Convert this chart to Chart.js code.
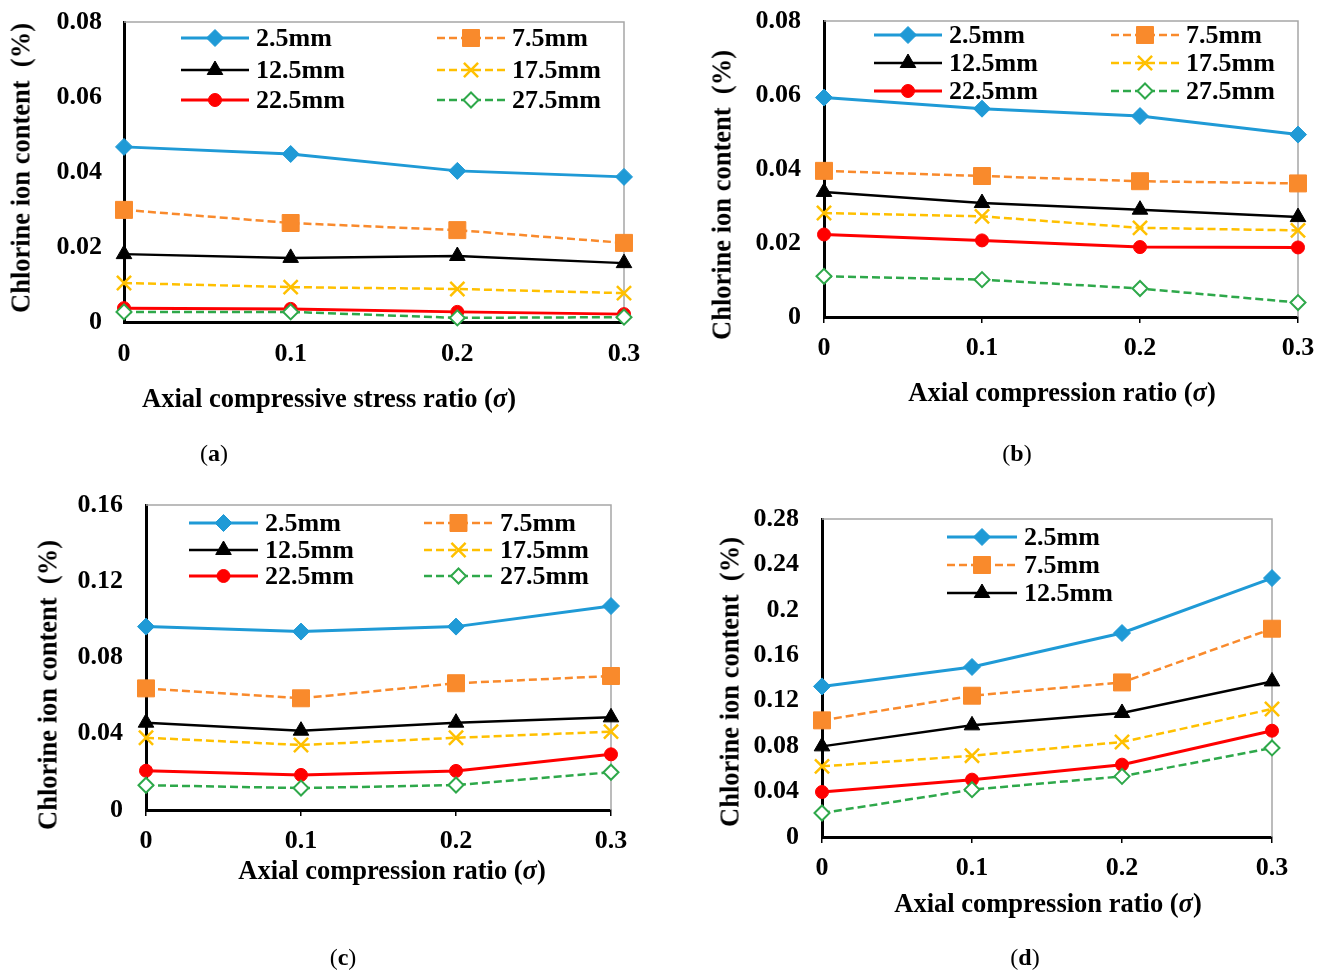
<!DOCTYPE html>
<html>
<head>
<meta charset="utf-8">
<title>Chlorine ion content vs axial compression ratio</title>
<script src="https://cdn.jsdelivr.net/npm/chart.js@4.4.1/dist/chart.umd.min.js"></script>
<style>
body { margin: 0; background: #fff; }
#page { position: relative; width: 1328px; height: 972px; overflow: hidden;
  font-family: "Liberation Serif", "Times New Roman", serif; color: #000; }
canvas { position: absolute; }
.xt, .yt, .lab { position: absolute; white-space: nowrap; font-size: 26.5px; font-weight: bold; }
.xt { transform: translate(-50%, -50%); }
.yt { transform: translate(-50%, -50%) rotate(-90deg); }
.lab { font-size: 24px; font-weight: normal; transform: translate(-50%, -50%); }
</style>
</head>
<body>
<div id="page">
  <canvas id="chartA" width="660" height="480" style="left:0;top:0;width:660px;height:480px"></canvas>
  <canvas id="chartB" width="668" height="480" style="left:660px;top:0;width:668px;height:480px"></canvas>
  <canvas id="chartC" width="660" height="492" style="left:0;top:480px;width:660px;height:492px"></canvas>
  <canvas id="chartD" width="668" height="492" style="left:660px;top:480px;width:668px;height:492px"></canvas>

  <div class="yt" style="left:21px;top:168px">Chlorine ion content&nbsp;&nbsp;(%)</div>
  <div class="xt" style="left:329px;top:398px">Axial compressive stress ratio (<i>σ</i>)</div>
  <div class="lab" style="left:214px;top:453px">(<b>a</b>)</div>

  <div class="yt" style="left:722px;top:195px">Chlorine ion content&nbsp;&nbsp;(%)</div>
  <div class="xt" style="left:1062px;top:392px">Axial compression ratio (<i>σ</i>)</div>
  <div class="lab" style="left:1017px;top:453px">(<b>b</b>)</div>

  <div class="yt" style="left:48px;top:685px">Chlorine ion content&nbsp;&nbsp;(%)</div>
  <div class="xt" style="left:392px;top:870px">Axial compression ratio (<i>σ</i>)</div>
  <div class="lab" style="left:343px;top:957px">(<b>c</b>)</div>

  <div class="yt" style="left:730px;top:682px">Chlorine ion content&nbsp;&nbsp;(%)</div>
  <div class="xt" style="left:1048px;top:903px">Axial compression ratio (<i>σ</i>)</div>
  <div class="lab" style="left:1025px;top:957px">(<b>d</b>)</div>
</div>

<script>
// axial compression ratio (x) and depth series names
const ratio = [0, 0.1, 0.2, 0.3];
const depths = ["2.5mm", "7.5mm", "12.5mm", "17.5mm", "22.5mm", "27.5mm"];

// (a)
const a25 = [0.0467, 0.0448, 0.0403, 0.0387];
const a75 = [0.0299, 0.0264, 0.0245, 0.0211];
const a125 = [0.0181, 0.0171, 0.0176, 0.0157];
const a175 = [0.0104, 0.0093, 0.0088, 0.0077];
const a225 = [0.0037, 0.0035, 0.0027, 0.0021];
const a275 = [0.0027, 0.0027, 0.0011, 0.0013];

// (b)
const b25 = [0.0593, 0.0563, 0.0543, 0.0493];
const b75 = [0.0395, 0.0381, 0.0367, 0.0361];
const b125 = [0.0338, 0.0308, 0.0290, 0.0270];
const b175 = [0.0281, 0.0272, 0.0241, 0.0234];
const b225 = [0.0223, 0.0207, 0.0189, 0.0188];
const b275 = [0.0110, 0.0101, 0.0077, 0.0039];

// (c)
const c25 = [0.0962, 0.0936, 0.0962, 0.1070];
const c75 = [0.0638, 0.0586, 0.0665, 0.0703];
const c125 = [0.0458, 0.0416, 0.0458, 0.0486];
const c175 = [0.0379, 0.0341, 0.0379, 0.0411];
const c225 = [0.0206, 0.0184, 0.0205, 0.0292];
const c275 = [0.0130, 0.0115, 0.0131, 0.0198];

// (d)
const d25 = [0.1326, 0.1497, 0.1796, 0.2280];
const d75 = [0.1027, 0.1244, 0.1361, 0.1834];
const d125 = [0.0798, 0.0983, 0.1092, 0.1370];
const d175 = [0.0622, 0.0716, 0.0836, 0.1127];
const d225 = [0.0396, 0.0505, 0.0637, 0.0936];
const d275 = [0.0211, 0.0417, 0.0534, 0.0784];

// tick labels
const xTicks = [0, 0.1, 0.2, 0.3];
const yTicksAB = [0, 0.02, 0.04, 0.06, 0.08];
const yTicksC = [0, 0.04, 0.08, 0.12, 0.16];
const yTicksD = [0, 0.04, 0.08, 0.12, 0.16, 0.2, 0.24, 0.28];


const looks = [
    { color: "#1f9ad6", dash: [], point: "rectRot", r: 8.5, fill: "#1f9ad6", bw: 3, pbw: 1 },
    { color: "#f98a2c", dash: [8, 4], point: "rect", r: 12, fill: "#f98a2c", bw: 2.5, pbw: 1 },
    { color: "#000000", dash: [], point: "triangle", r: 9, fill: "#000000", bw: 2.5, pbw: 1 },
    { color: "#ffc000", dash: [8, 4], point: "crossRot", r: 10, fill: "#ffc000", bw: 2.5, pbw: 2.5 },
    { color: "#ff0000", dash: [], point: "circle", r: 6.5, fill: "#ff0000", bw: 3, pbw: 1 },
    { color: "#2ea84a", dash: [8, 4], point: "rectRot", r: 7.5, fill: "#ffffff", bw: 2.5, pbw: 2 }
];

const tickFont = { family: "Liberation Serif", size: 26, weight: "bold" };

function fmt(v) {
    return String(Number(v.toFixed(2)));
}

// draws the in-plot legend the way the original figure has it
const legendPlugin = {
    id: "panelLegend",
    afterDatasetsDraw(chart, args, opts) {
        const ctx = chart.ctx;
        chart.data.datasets.forEach((ds, i) => {
            if (i >= opts.count) return;
            const col = i % opts.cols;
            const row = Math.floor(i / opts.cols);
            const x0 = opts.x[col];
            const y = opts.y[row];
            ctx.save();
            ctx.strokeStyle = ds.borderColor;
            ctx.lineWidth = ds.borderWidth;
            ctx.setLineDash(ds.borderDash);
            ctx.beginPath();
            ctx.moveTo(x0, y);
            ctx.lineTo(x0 + opts.len, y);
            ctx.stroke();
            ctx.setLineDash([]);
            ctx.fillStyle = ds.pointBackgroundColor;
            ctx.strokeStyle = ds.pointBorderColor;
            ctx.lineWidth = ds.pointBorderWidth;
            Chart.helpers.drawPoint(ctx, {
                pointStyle: ds.pointStyle,
                radius: ds.pointRadius,
                rotation: 0,
                borderWidth: ds.pointBorderWidth
            }, x0 + opts.len / 2, y);
            ctx.fillStyle = "#000";
            ctx.font = "bold 26px 'Liberation Serif'";
            ctx.textAlign = "left";
            ctx.textBaseline = "middle";
            ctx.fillText(ds.label, x0 + opts.len + 7, y + 1);
            ctx.restore();
        });
    }
};

// thin grey top/right edge of the plot box
const framePlugin = {
    id: "frame",
    beforeDatasetsDraw(chart) {
        const a = chart.chartArea;
        const ctx = chart.ctx;
        ctx.save();
        ctx.strokeStyle = "#a6a6a6";
        ctx.lineWidth = 1.5;
        ctx.beginPath();
        ctx.moveTo(a.left, a.top);
        ctx.lineTo(a.right, a.top);
        ctx.lineTo(a.right, a.bottom);
        ctx.stroke();
        ctx.restore();
    }
};

function makePanel(id, series, p) {
    const datasets = series.map((vals, i) => {
        const s = looks[i];
        return {
            label: depths[i],
            data: ratio.map((x, k) => ({ x: x, y: vals[k] })),
            borderColor: s.color,
            borderDash: s.dash,
            borderWidth: s.bw,
            pointStyle: s.point,
            pointRadius: s.r,
            pointBackgroundColor: s.fill,
            pointBorderColor: s.color,
            pointBorderWidth: s.pbw,
            tension: 0,
            clip: false,
            order: 6 - i
        };
    });

    new Chart(document.getElementById(id), {
        type: "line",
        data: { datasets: datasets },
        options: {
            responsive: false,
            maintainAspectRatio: false,
            animation: false,
            layout: { padding: p.padding },
            plugins: {
                legend: { display: false },
                tooltip: { enabled: false },
                panelLegend: p.legend
            },
            scales: {
                x: {
                    type: "linear",
                    min: 0,
                    max: 0.3,
                    afterBuildTicks: s => { s.ticks = xTicks.map(v => ({ value: v })); },
                    afterFit: s => {
                        s.height = 60;
                        s.paddingLeft = 0;
                        s.paddingRight = 0;
                    },
                    ticks: {
                        padding: p.xPad,
                        color: "#000",
                        font: tickFont,
                        maxRotation: 0,
                        autoSkip: false,
                        callback: v => fmt(v)
                    },
                    grid: {
                        display: true,
                        drawOnChartArea: false,
                        color: "rgba(0,0,0,0)",
                        tickColor: p.xMarks ? "#000" : "rgba(0,0,0,0)",
                        tickLength: 6,
                        lineWidth: 1.5
                    },
                    border: { display: true, color: "#000", width: 3 }
                },
                y: {
                    type: "linear",
                    min: 0,
                    max: p.yTicks[p.yTicks.length - 1],
                    afterBuildTicks: s => { s.ticks = p.yTicks.map(v => ({ value: v })); },
                    afterFit: s => {
                        s.width = p.yWidth;
                        s.paddingTop = 0;
                        s.paddingBottom = 0;
                    },
                    ticks: {
                        padding: p.yPad,
                        color: "#000",
                        font: tickFont,
                        callback: v => fmt(v)
                    },
                    grid: { display: false, drawTicks: false },
                    border: { display: true, color: "#000", width: 3 }
                }
            }
        },
        plugins: [framePlugin, legendPlugin]
    });
}

makePanel("chartA", [a25, a75, a125, a175, a225, a275], {
    padding: { left: 0, top: 22, right: 36, bottom: 98 },
    yWidth: 124, yPad: 22, xPad: 10.4, xMarks: false,
    yTicks: yTicksAB,
    legend: { cols: 2, count: 6, x: [181, 437], y: [38, 70, 100], len: 68 }
});

makePanel("chartB", [b25, b75, b125, b175, b225, b275], {
    padding: { left: 0, top: 21, right: 30, bottom: 103 },
    yWidth: 164, yPad: 23, xPad: 9.4, xMarks: true,
    yTicks: yTicksAB,
    legend: { cols: 2, count: 6, x: [214, 451], y: [35, 63, 91], len: 68 }
});

makePanel("chartC", [c25, c75, c125, c175, c225, c275], {
    padding: { left: 0, top: 25, right: 49, bottom: 102 },
    yWidth: 146, yPad: 23, xPad: 9.4, xMarks: true,
    yTicks: yTicksC,
    legend: { cols: 2, count: 6, x: [189, 424], y: [43, 70, 96], len: 69 }
});

makePanel("chartD", [d25, d75, d125, d175, d225, d275], {
    padding: { left: 0, top: 39, right: 56, bottom: 75 },
    yWidth: 162, yPad: 23, xPad: 9.4, xMarks: true,
    yTicks: yTicksD,
    legend: { cols: 1, count: 3, x: [287], y: [57, 85, 113], len: 70 }
});
</script>
</body>
</html>
